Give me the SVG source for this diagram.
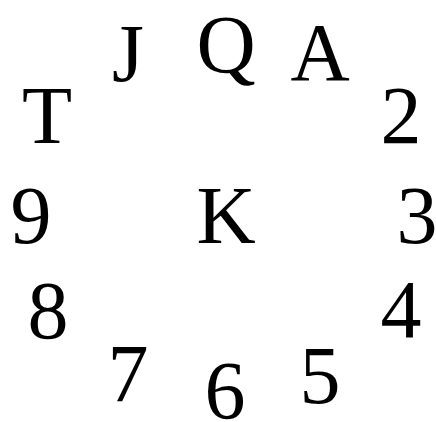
<svg xmlns="http://www.w3.org/2000/svg" width="436" height="422" viewBox="0 0 436 422">
<style>
text{font-family:"Liberation Serif","Times New Roman",serif;font-size:82px;fill:#000;text-anchor:middle}
</style>
<rect width="436" height="422" fill="#fff"/>
<g id="nodes">
<g id="n-Q"><text x="226" y="72">Q</text></g>
<g id="n-A"><text x="320" y="80">A</text></g>
<g id="n-2"><text x="401" y="143">2</text></g>
<g id="n-3"><text x="417" y="243">3</text></g>
<g id="n-4"><text x="401" y="337">4</text></g>
<g id="n-5"><text x="320" y="403">5</text></g>
<g id="n-6"><text x="225" y="418">6</text></g>
<g id="n-7"><text x="128" y="401">7</text></g>
<g id="n-8"><text x="48" y="338">8</text></g>
<g id="n-9"><text x="31" y="243">9</text></g>
<g id="n-T"><text x="47" y="143">T</text></g>
<g id="n-J"><text x="128" y="81">J</text></g>
<g id="n-K"><text x="226" y="243">K</text></g>
</g>
<g id="connectors"></g>
</svg>
